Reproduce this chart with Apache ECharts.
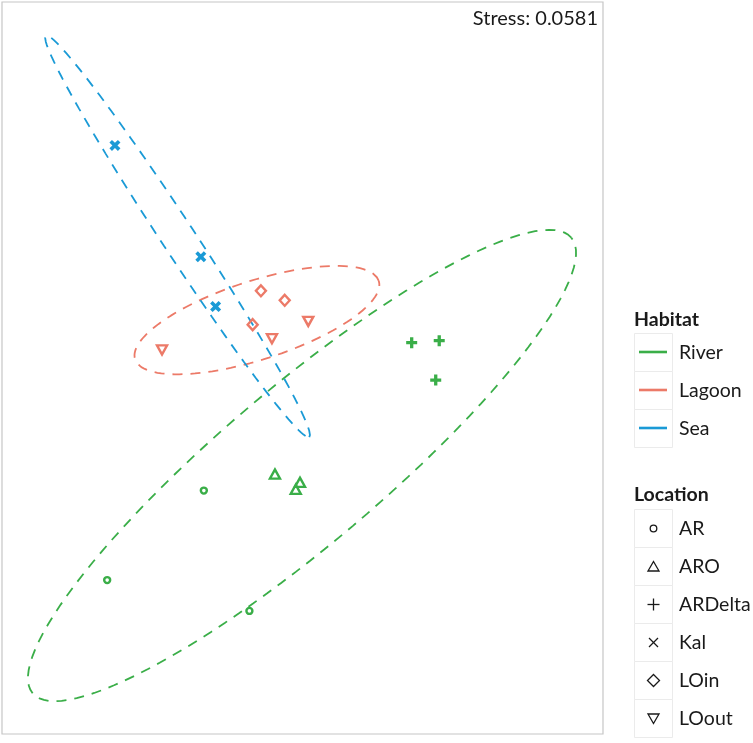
<!DOCTYPE html>
<html>
<head>
<meta charset="utf-8">
<script src="https://cdn.jsdelivr.net/npm/echarts@6/dist/echarts.min.js"></script>
<style>
html,body{margin:0;padding:0;background:#fff;}
#chart{width:753px;height:743px;}
</style>
</head>
<body>
<div id="chart"></div>
<script>
// ---- data (NMDS coordinates) ----
const habitats = ['River', 'Lagoon', 'Sea'];
const habitatColors = ['#3AAE48', '#EC7A68', '#1A9AD6'];
const locations = ['AR', 'ARO', 'ARDelta', 'Kal', 'LOin', 'LOout'];
const locationHabitat = ['River', 'River', 'River', 'Sea', 'Lagoon', 'Lagoon'];

const AR      = [[-0.394, -0.489], [-0.780, -0.846], [-0.212, -0.969]];
const ARO     = [[-0.110, -0.423], [-0.010, -0.456], [-0.027, -0.484]];
const ARDelta = [[0.436, 0.101], [0.546, 0.109], [0.532, -0.048]];
const Kal     = [[-0.749, 0.888], [-0.406, 0.444], [-0.347, 0.245]];
const LOin    = [[-0.166, 0.308], [-0.071, 0.270], [-0.199, 0.173]];
const LOout   = [[0.023, 0.186], [-0.122, 0.117], [-0.561, 0.072]];
const locationPoints = [AR, ARO, ARDelta, Kal, LOin, LOout];

// ellipse per habitat: [centerX, centerY, semiMajor, semiMinor, angleDeg]
const ellipseRiver  = [-0.002, -0.389, 1.408, 0.315, 40.2];
const ellipseLagoon = [-0.182, 0.191, 0.511, 0.157, 17.8];
const ellipseSea    = [-0.499, 0.525, 0.958, 0.066, -56.7];
const ellipses = [ellipseRiver, ellipseLagoon, ellipseSea];

const stressLabel = 'Stress: 0.0581';

// ---- build ----
const FONT = 'Lato';
const plusPath = 'path://M3.5,0 H6.5 V3.5 H10 V6.5 H6.5 V10 H3.5 V6.5 H0 V3.5 H3.5 Z';

function ellipsePoints(p) {
  const [cx, cy, a, b, ang] = p;
  const t = ang * Math.PI / 180;
  const pts = [];
  const n = 120;
  for (let i = 0; i <= n; i++) {
    const u = 2 * Math.PI * i / n;
    const ex = a * Math.cos(u), ey = b * Math.sin(u);
    pts.push([cx + ex * Math.cos(t) - ey * Math.sin(t), cy + ex * Math.sin(t) + ey * Math.cos(t)]);
  }
  return pts;
}

const symbolDefs = {
  AR:      {symbol: 'circle', size: 6, rotate: 0, filled: false},
  ARO:     {symbol: 'triangle', size: [10, 9], rotate: 0, filled: false},
  ARDelta: {symbol: plusPath, size: 11, rotate: 0, filled: true},
  Kal:     {symbol: plusPath, size: 12, rotate: 45, filled: true},
  LOin:    {symbol: 'diamond', size: [10, 11], rotate: 0, filled: false},
  LOout:   {symbol: 'triangle', size: [10, 9], rotate: 180, filled: false}
};

const series = [];
ellipses.forEach((e, i) => {
  series.push({
    type: 'line', name: habitats[i] + ' ellipse', data: ellipsePoints(e),
    showSymbol: false, symbol: 'none', smooth: false, silent: true, z: 1,
    lineStyle: {color: habitatColors[i], width: 1.8, type: [10, 8], opacity: 1}
  });
});
locations.forEach((loc, i) => {
  const col = habitatColors[habitats.indexOf(locationHabitat[i])];
  const d = symbolDefs[loc];
  series.push({
    type: 'scatter', name: loc, data: locationPoints[i], z: 3,
    symbol: d.symbol, symbolSize: d.size, symbolRotate: d.rotate,
    itemStyle: d.filled ? {color: col, borderWidth: 0, opacity: 1}
                        : {color: 'rgba(255,255,255,0)', borderColor: col, borderWidth: 2.4, opacity: 1}
  });
});

// legend graphics
const graphic = [];
const txtColor = '#1a1a1a';
graphic.push({type: 'text', position: [598, 19], style: {text: stressLabel, font: '20px ' + FONT, fill: txtColor, textAlign: 'right', textVerticalAlign: 'middle'}});

const keyX = 634, keyW = 38, rowH = 38;
function addTitle(text, y) {
  graphic.push({type: 'text', position: [keyX, y], style: {text: text, font: 'bold 19.5px ' + FONT, fill: txtColor, textVerticalAlign: 'middle'}});
}
function addBox(y) {
  graphic.push({type: 'rect', shape: {x: keyX + 0.5, y: y + 0.5, width: keyW, height: rowH}, style: {fill: '#fff', stroke: '#ebebeb', lineWidth: 1}});
}
function addLabel(text, y) {
  graphic.push({type: 'text', position: [keyX + 45, y + rowH / 2 + 1], style: {text: text, font: '19.5px ' + FONT, fill: txtColor, textVerticalAlign: 'middle'}});
}
addTitle('Habitat', 320);
habitats.forEach((h, i) => {
  const y = 333 + i * rowH;
  addBox(y);
  graphic.push({type: 'line', shape: {x1: keyX + 5, y1: y + rowH / 2, x2: keyX + 33, y2: y + rowH / 2}, style: {stroke: habitatColors[i], lineWidth: 2.6}});
  addLabel(h, y);
});
addTitle('Location', 495);
locations.forEach((l, i) => {
  const y = 509 + i * rowH;
  addBox(y);
  const cx = keyX + keyW / 2 + 0.5, cy = y + rowH / 2 + 0.5;
  const st = {stroke: '#1a1a1a', lineWidth: 1.3, fill: 'none'};
  if (l === 'AR') graphic.push({type: 'circle', shape: {cx: cx, cy: cy, r: 3.3}, style: st});
  else if (l === 'ARO') graphic.push({type: 'polygon', shape: {points: [[cx, cy - 5], [cx + 5.5, cy + 4.5], [cx - 5.5, cy + 4.5]]}, style: st});
  else if (l === 'ARDelta') { graphic.push({type: 'line', shape: {x1: cx - 6, y1: cy, x2: cx + 6, y2: cy}, style: st}); graphic.push({type: 'line', shape: {x1: cx, y1: cy - 6, x2: cx, y2: cy + 6}, style: st}); }
  else if (l === 'Kal') { graphic.push({type: 'line', shape: {x1: cx - 4.5, y1: cy - 4.5, x2: cx + 4.5, y2: cy + 4.5}, style: st}); graphic.push({type: 'line', shape: {x1: cx - 4.5, y1: cy + 4.5, x2: cx + 4.5, y2: cy - 4.5}, style: st}); }
  else if (l === 'LOin') graphic.push({type: 'polygon', shape: {points: [[cx, cy - 6], [cx + 6, cy], [cx, cy + 6], [cx - 6, cy]]}, style: st});
  else if (l === 'LOout') graphic.push({type: 'polygon', shape: {points: [[cx, cy + 5], [cx + 5.5, cy - 4.5], [cx - 5.5, cy - 4.5]]}, style: st});
  addLabel(l, y);
});

const chart = echarts.init(document.getElementById('chart'), null, {renderer: 'canvas'});
chart.setOption({
  animation: false,
  backgroundColor: '#fff',
  grid: {left: 2, top: 2, width: 601, height: 732, show: true, borderColor: '#c6c6c6', borderWidth: 1.2, backgroundColor: 'transparent'},
  xAxis: {type: 'value', min: -1.2, max: 1.2, show: false},
  yAxis: {type: 'value', min: -1.46, max: 1.46, show: false},
  series: series,
  graphic: graphic
});
</script>
</body>
</html>
